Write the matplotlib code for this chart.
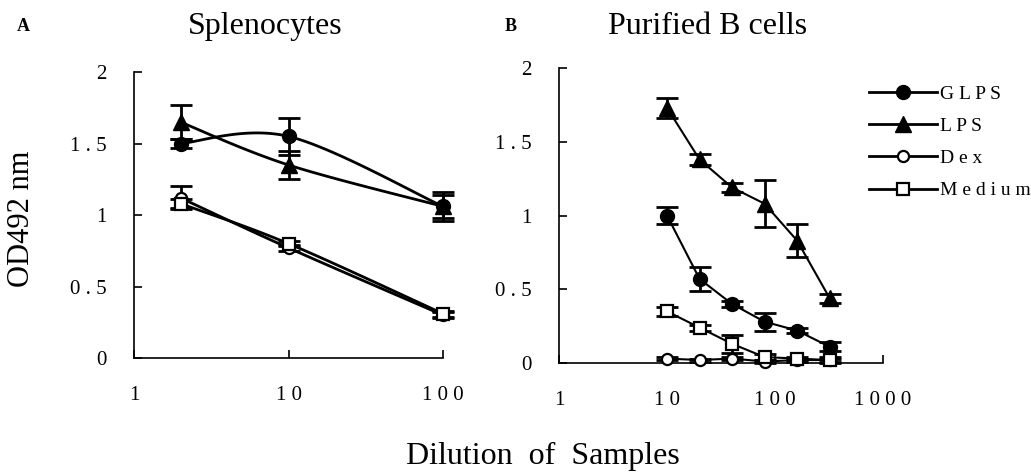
import numpy as np
import matplotlib
matplotlib.use("Agg")
import matplotlib.pyplot as plt
from matplotlib.lines import Line2D

plt.rcParams['font.family'] = ['Liberation Serif', 'DejaVu Serif']

# ---------------- data ----------------
# Panel A: Splenocytes
dil_a = [2, 10, 100]
a_glps = [1.50, 1.55, 1.06]
a_glps_err = [0.03, 0.13, 0.10]
a_lps = [1.65, 1.35, 1.06]
a_lps_err = [0.12, 0.10, 0.08]
a_dex = [1.12, 0.77, 0.30]
a_dex_err = [0.08, 0.02, 0.02]
a_med = [1.08, 0.80, 0.31]
a_med_err = [0.03, 0.02, 0.02]

# Panel B: Purified B cells
dil_b = [10, 20, 40, 80, 160, 320]
b_glps = [1.00, 0.57, 0.40, 0.28, 0.22, 0.11]
b_glps_err = [0.06, 0.08, 0.02, 0.06, 0.02, 0.03]
b_lps = [1.73, 1.38, 1.19, 1.08, 0.83, 0.44]
b_lps_err = [0.07, 0.04, 0.03, 0.16, 0.11, 0.03]
b_dex = [0.03, 0.02, 0.03, 0.01, 0.02, 0.02]
b_dex_err = [0.01, 0.01, 0.01, 0.01, 0.01, 0.01]
b_med = [0.35, 0.24, 0.13, 0.04, 0.03, 0.02]
b_med_err = [0.03, 0.02, 0.06, 0.02, 0.01, 0.02]

series_names = ["G L P S", "L P S", "D e x", "M e d i u m"]
ytick_vals = [0, 0.5, 1, 1.5, 2]
ytick_labels = ["0", "0 . 5", "1", "1 . 5", "2"]
xticks_a = [1, 10, 100]
xticks_a_labels = ["1", "1 0", "1 0 0"]
xticks_b = [1, 10, 100, 1000]
xticks_b_labels = ["1", "1 0", "1 0 0", "1 0 0 0"]

styles = [
    dict(marker='o', mfc='black', mec='black', ms=10),
    dict(marker='^', mfc='black', mec='black', ms=11),
    dict(marker='o', mfc='white', mec='black', ms=8, mew=1.6),
    dict(marker='s', mfc='white', mec='black', ms=9, mew=1.6),
]

fig = plt.figure(figsize=(10.31, 4.75), dpi=100)
axA = fig.add_axes([0.130, 0.2463, 0.2997, 0.602])
axB = fig.add_axes([0.5422, 0.2358, 0.3143, 0.621])


def catmull(ax, xs, ys, xlim, ylim, n=60):
    """Smoothed (Excel-like) path through the points, in axes-pixel space."""
    bb = ax.get_position()
    W = bb.width * fig.get_figwidth()
    H = bb.height * fig.get_figheight()
    u = (np.log10(xs) - np.log10(xlim[0])) / (np.log10(xlim[1]) - np.log10(xlim[0])) * W
    v = (np.array(ys) - ylim[0]) / (ylim[1] - ylim[0]) * H
    P = np.column_stack([u, v])
    P = np.vstack([P[0], P, P[-1]])
    out = []
    t = np.linspace(0, 1, n)
    for i in range(1, len(P) - 2):
        p0, p1, p2, p3 = P[i - 1], P[i], P[i + 1], P[i + 2]
        seg = 0.5 * ((2 * p1)[None, :] + (-p0 + p2)[None, :] * t[:, None]
                     + (2 * p0 - 5 * p1 + 4 * p2 - p3)[None, :] * t[:, None] ** 2
                     + (-p0 + 3 * p1 - 3 * p2 + p3)[None, :] * t[:, None] ** 3)
        out.append(seg)
    S = np.vstack(out)
    xx = 10 ** (S[:, 0] / W * (np.log10(xlim[1]) - np.log10(xlim[0])) + np.log10(xlim[0]))
    yy = S[:, 1] / H * (ylim[1] - ylim[0]) + ylim[0]
    return xx, yy


def setup(ax, xlim, xt, xtl):
    ax.set_xscale('log')
    ax.set_xlim(*xlim)
    ax.set_ylim(0, 2)
    ax.spines['top'].set_visible(False)
    ax.spines['right'].set_visible(False)
    for s in ('left', 'bottom'):
        ax.spines[s].set_linewidth(1.2)
    ax.set_xticks(xt)
    ax.set_xticklabels(xtl)
    ax.xaxis.set_minor_locator(matplotlib.ticker.NullLocator())
    ax.set_yticks(ytick_vals)
    ax.set_yticklabels(ytick_labels)
    ax.tick_params(axis='both', direction='in', length=6, width=1.2, labelsize=15)
    ax.tick_params(axis='y', pad=20)
    ax.tick_params(axis='x', pad=20)
    ax.patch.set_alpha(0)


# Panel A
xlimA = (1, 100)
setup(axA, xlimA, xticks_a, xticks_a_labels)
for vals, errs, st in zip([a_glps, a_lps, a_dex, a_med],
                          [a_glps_err, a_lps_err, a_dex_err, a_med_err], styles):
    xx, yy = catmull(axA, dil_a, vals, xlimA, (0, 2))
    axA.plot(xx, yy, color='black', lw=2, clip_on=False, zorder=2)
    axA.errorbar(dil_a, vals, yerr=errs, fmt='none', ecolor='black',
                 elinewidth=2, capsize=8, capthick=2, clip_on=False, zorder=3)
    axA.plot(dil_a, vals, ls='none', clip_on=False, zorder=4, **st)

# Panel B
xlimB = (1, 1000)
setup(axB, xlimB, xticks_b, xticks_b_labels)
for vals, errs, st in zip([b_glps, b_lps, b_dex, b_med],
                          [b_glps_err, b_lps_err, b_dex_err, b_med_err], styles):
    axB.plot(dil_b, vals, color='black', lw=1.5, clip_on=False, zorder=2)
    axB.errorbar(dil_b, vals, yerr=errs, fmt='none', ecolor='black',
                 elinewidth=2, capsize=8, capthick=2, clip_on=False, zorder=3)
    axB.plot(dil_b, vals, ls='none', clip_on=False, zorder=4, **st)

handles = [Line2D([0], [0], color='black', lw=2, **st) for st in styles]
fig.legend(handles, series_names, loc='upper left', bbox_to_anchor=(0.835, 0.837),
           frameon=False, fontsize=14, handlelength=3.5, handletextpad=0.15,
           labelspacing=0.75, borderaxespad=0)

# titles and labels
fig.text(0.257, 0.945, "Splenocytes", fontsize=23, ha='center', va='center')
fig.text(0.686, 0.945, "Purified B cells", fontsize=23, ha='center', va='center')
fig.text(0.016, 0.945, "A", fontsize=13, fontweight='bold', ha='left', va='center')
fig.text(0.489, 0.945, "B", fontsize=13, fontweight='bold', ha='left', va='center')
fig.text(0.021, 0.540, "OD492 nm", fontsize=22, rotation=90, ha='center', va='center')
fig.text(0.527, 0.038, "Dilution  of  Samples", fontsize=23, ha='center', va='center')

fig.savefig("out.png", dpi=100)
